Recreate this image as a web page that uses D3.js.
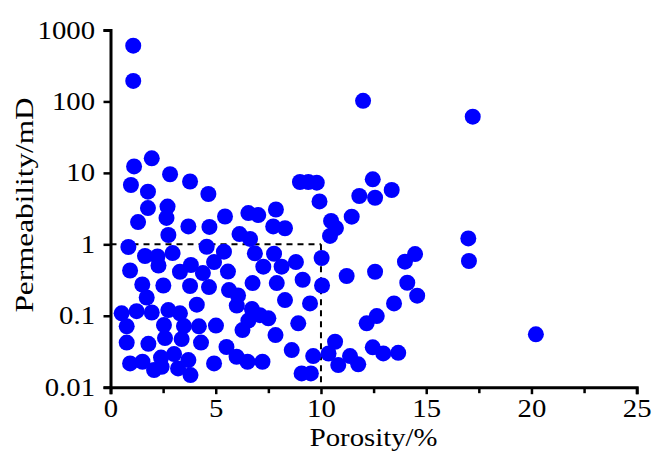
<!DOCTYPE html>
<html>
<head>
<meta charset="utf-8">
<script src="https://cdn.jsdelivr.net/npm/d3@7"></script>
<style>
html,body{margin:0;padding:0;background:#fff;}
svg{display:block;}
</style>
</head>
<body>
<svg id="chart" width="655" height="452"></svg>
<script>
// Porosity (%) and permeability (mD)
const porosity = [
1.08,1.08,12.0,17.21,
1.12,1.96,2.83,3.78,4.65,0.97,1.78,1.78,2.71,2.66,1.31,3.70,4.70,2.75,0.85,1.64,2.23,2.95,4.57,
5.44,6.55,7.02,7.86,7.73,8.29,6.13,6.63,9.00,9.40,9.80,9.93,5.39,6.86,7.77,8.81,10.03,
10.48,10.71,10.43,11.46,11.82,12.46,12.57,13.36,
0.93,1.51,2.28,2.51,3.30,3.78,3.82,4.39,4.68,4.92,5.58,7.26,8.13,6.75,7.90,9.13,10.05,
11.22,12.57,13.99,14.47,14.10,14.57,17.00,17.03,1.72,4.10,5.63,6.06,8.29,9.48,
0.53,1.24,1.96,2.75,3.30,0.77,2.54,2.59,3.49,4.20,5.01,0.77,1.80,3.38,4.30,5.51,
0.93,1.52,2.07,2.40,3.02,3.70,3.21,3.80,4.92,2.43,
6.00,6.72,7.10,7.50,6.55,6.27,7.84,8.92,5.99,6.51,7.22,8.61,9.63,10.36,9.08,9.52,
10.67,10.82,11.38,11.77,12.46,12.96,13.67,13.47,12.65,12.17,20.21
];
const permeability = [
604,194,102,61.2,
12.3,16.0,9.56,7.58,5.06,6.77,5.45,3.22,3.38,2.34,2.05,1.78,1.75,1.35,0.917,0.686,0.675,0.755,0.925,
2.45,2.74,2.57,3.07,1.78,1.68,1.39,1.19,7.46,7.46,7.3,3.98,0.788,0.748,0.738,0.565,0.643,
2.12,1.69,1.31,2.44,4.75,8.13,4.49,5.76,
0.430,0.274,0.505,0.265,0.413,0.261,0.513,0.396,0.252,0.565,0.416,0.486,0.486,0.287,0.287,0.319,0.265,
0.360,0.413,0.571,0.731,0.290,0.191,1.21,0.584,0.180,0.143,0.229,0.192,0.166,0.149,
0.108,0.116,0.111,0.120,0.108,0.0711,0.0741,0.0487,0.0717,0.0711,0.0729,0.0421,0.0405,0.0472,0.0421,0.0365,
0.0215,0.0227,0.0174,0.0260,0.0291,0.0240,0.0183,0.0148,0.0215,0.0193,
0.139,0.124,0.102,0.0920,0.0857,0.0631,0.0537,0.0783,0.0267,0.0227,0.0227,0.0331,0.0273,0.0296,0.0156,0.0156,
0.0433,0.0204,0.0273,0.0209,0.0361,0.0297,0.0303,0.149,0.0991,0.0783,0.0549
];
const xTicks = [0,5,10,15,20,25];
const xMinorTicks = [2.5,7.5,12.5,17.5,22.5];
const yTicks = [0.01,0.1,1,10,100,1000];
const yTickLabels = ["0.01","0.1","1","10","100","1000"];
const cutoffPorosity = 10;
const cutoffPermeability = 1;
const xTitle = "Porosity/%";
const yTitle = "Permeability/mD";

const svg = d3.select("#chart");
const mLeft = 110.5, mRight = 636.7, mTop = 30, mBottom = 387.2;
const x = d3.scaleLinear().domain([0,25]).range([mLeft,mRight]);
const y = d3.scaleLog().domain([0.01,1000]).range([mBottom,mTop]);
const font = "Liberation Serif";
const fs = 25, sx = 1.15;

// cutoff dashed lines
svg.append("line")
  .attr("x1", x(0)).attr("x2", x(cutoffPorosity))
  .attr("y1", y(cutoffPermeability)).attr("y2", y(cutoffPermeability))
  .attr("stroke","#000").attr("stroke-width",2).attr("stroke-dasharray","6,5");
svg.append("line")
  .attr("x1", x(cutoffPorosity)).attr("x2", x(cutoffPorosity))
  .attr("y1", y(cutoffPermeability)).attr("y2", y(0.01))
  .attr("stroke","#000").attr("stroke-width",2).attr("stroke-dasharray","6,5");

// points
svg.append("g").selectAll("circle")
  .data(porosity.map((p,i)=>({p, k: permeability[i]})))
  .join("circle")
  .attr("cx", d=>x(d.p)).attr("cy", d=>y(d.k)).attr("r", 8)
  .attr("fill","#0000ff");

// axes
const gx = svg.append("g").attr("transform",`translate(0,${mBottom})`)
  .call(d3.axisBottom(x).tickValues(xTicks).tickSize(7).tickPadding(5).tickFormat(d3.format("d")));
const gxm = svg.append("g").attr("transform",`translate(0,${mBottom})`)
  .call(d3.axisBottom(x).tickValues(xMinorTicks).tickSize(6).tickFormat(""));
gxm.select(".domain").remove();
const gy = svg.append("g").attr("transform",`translate(${mLeft},0)`)
  .call(d3.axisLeft(y).tickValues(yTicks).tickSize(7).tickPadding(8).tickFormat((d,i)=>yTickLabels[i]));

[gx,gxm,gy].forEach(g=>{
  g.attr("font-family", font).attr("font-size", fs);
  g.selectAll(".domain").attr("stroke","#000").attr("stroke-width",3);
  g.selectAll(".tick line").attr("stroke","#000").attr("stroke-width",2.5);
});
gx.selectAll(".tick text").attr("font-family",font).attr("font-size",fs).attr("fill","#000")
  .attr("transform",`scale(${sx},1)`);
gy.selectAll(".tick text").attr("font-family",font).attr("font-size",fs).attr("fill","#000")
  .attr("transform",`scale(${sx},1)`).attr("x", -15.5/sx);

// titles
svg.append("text")
  .attr("transform", `translate(${(mLeft+mRight)/2},446) scale(${sx},1)`)
  .attr("text-anchor","middle").attr("font-family",font).attr("font-size",fs).attr("fill","#000")
  .text(xTitle);
svg.append("text")
  .attr("transform", `translate(33,205) rotate(-90) scale(1.25,1)`)
  .attr("text-anchor","middle").attr("font-family",font).attr("font-size",fs).attr("fill","#000")
  .text(yTitle);
</script>
</body>
</html>
